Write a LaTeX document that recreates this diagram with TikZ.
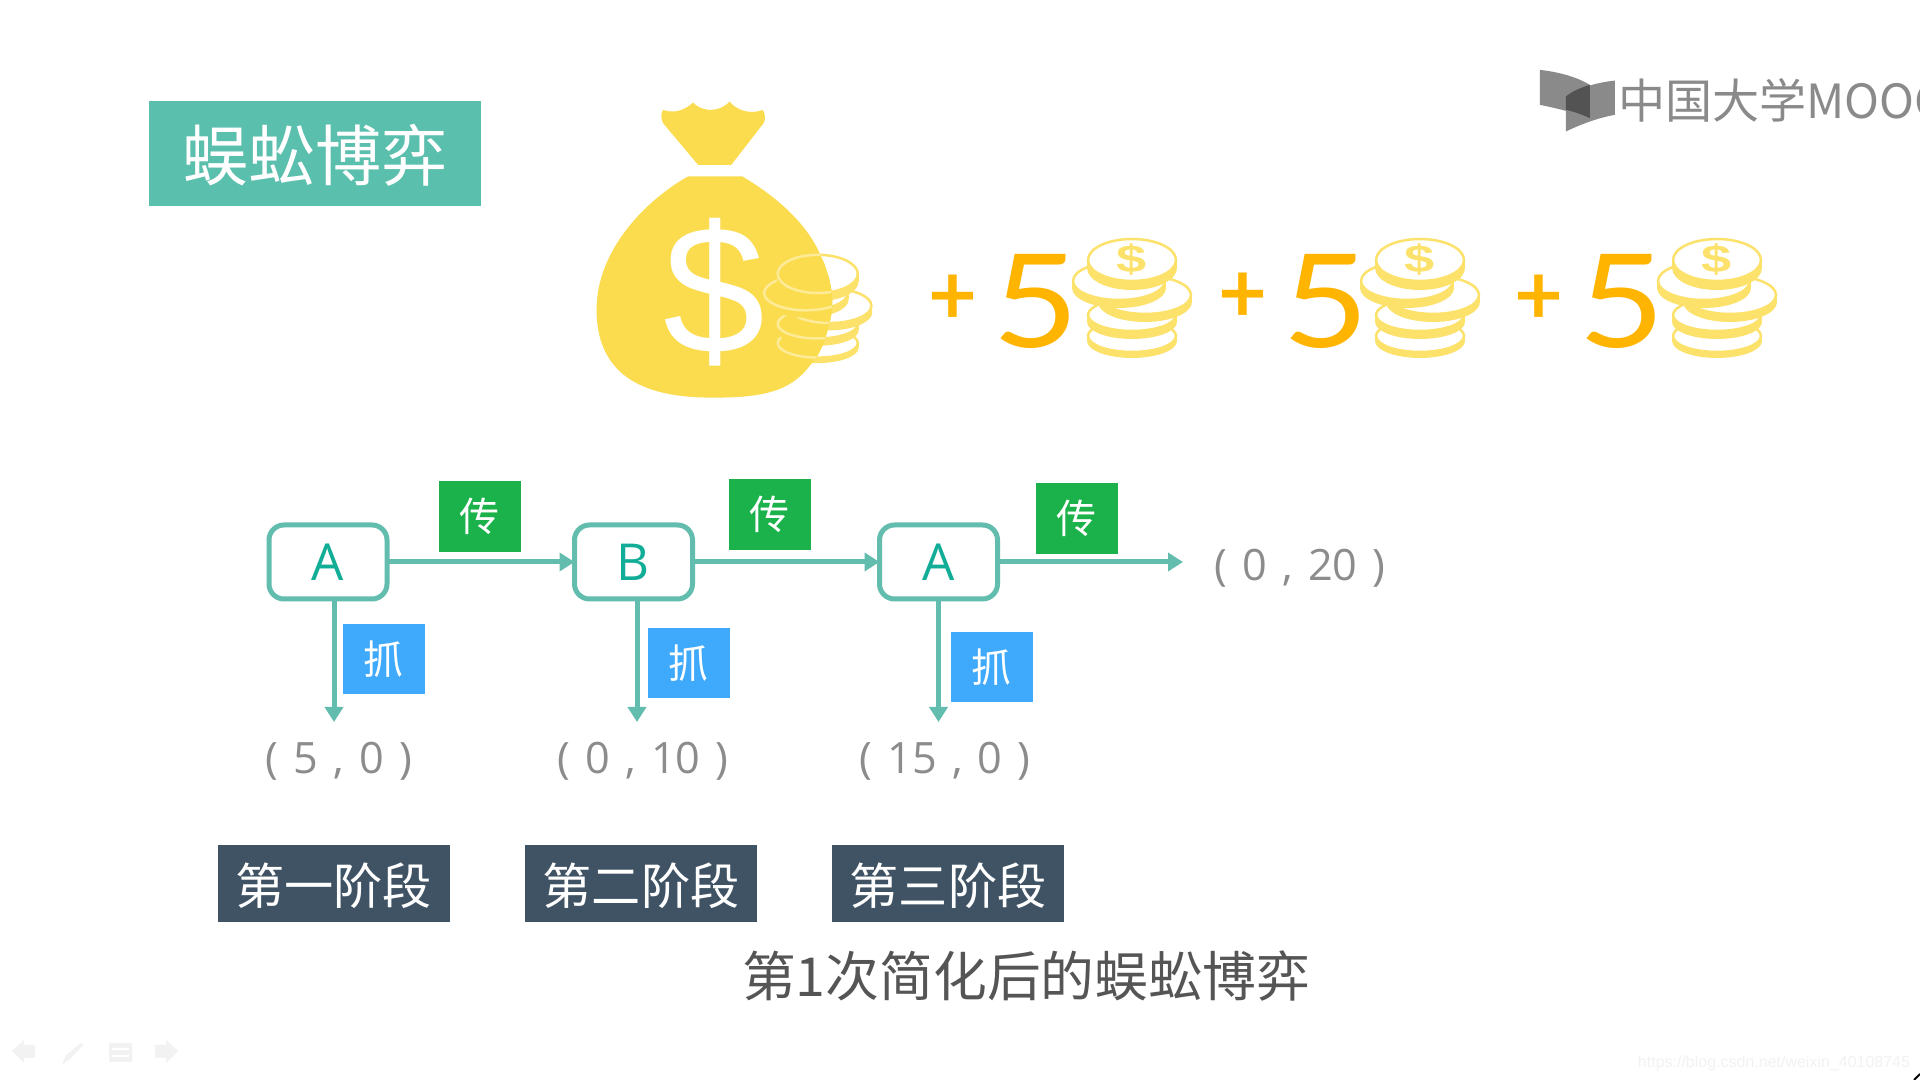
\documentclass[tikz,border=0pt]{standalone}
\usepackage{fontspec}
\setmainfont{Open Sans}
\newfontfamily\cjk{Noto Sans CJK SC}
\newfontfamily\hand{Lato}
\newfontfamily\webfont{Liberation Sans}
\newfontfamily\boldfont{Liberation Sans Bold}
\newfontfamily\pairfont[WordSpace=1.35]{Open Sans}
\usetikzlibrary{arrows.meta}
\definecolor{titleteal}{HTML}{5BBFAD}
\definecolor{lineteal}{HTML}{62BDAE}
\definecolor{letterteal}{HTML}{11AD96}
\definecolor{passgreen}{HTML}{1BB24B}
\definecolor{catchblue}{HTML}{3FA9FB}
\definecolor{stageslate}{HTML}{3F5364}
\definecolor{bagyellow}{HTML}{FBDC4F}
\definecolor{coinyellow}{HTML}{FCE26A}
\definecolor{plusorange}{HTML}{FFB400}
\definecolor{logogrey}{HTML}{8A8A8A}
\definecolor{pairgrey}{HTML}{8C8C8C}
\definecolor{captiongrey}{HTML}{555555}
\definecolor{faintgrey}{HTML}{F2F2F2}
\colorlet{coinbody}{coinyellow}
\colorlet{coinface}{white}
\colorlet{coinline}{coinyellow}
\newcommand{\bagbody}{(385,290) -- (548,290) .. controls (650,350) and (740,430) .. (780,520) .. controls (810,580) and (830,660) .. (810,730) .. controls (795,790) and (780,830) .. (750,860) .. controls (690,940) and (600,955) .. (460,955) .. controls (300,955) and (110,920) .. (110,690) .. controls (110,510) and (260,360) .. (385,290) -- cycle}
\begin{document}
\begin{tikzpicture}
    \tikzset{
        every node/.style={inner sep=0, outer sep=0},
        titlebox/.style={fill=titleteal, text=white, minimum width=3.32cm, minimum height=1.05cm, text height=0.63cm, text depth=0.08cm, font=\cjk\fontsize{18.8pt}{20pt}\selectfont},
        player/.style={draw=lineteal, line width=0.05cm, rounded corners=0.15cm, fill=white, text=letterteal, minimum width=1.18cm, minimum height=0.74cm, font=\fontsize{14.5pt}{16pt}\selectfont},
        pass/.style={fill=passgreen, text=white, minimum width=0.82cm, minimum height=0.71cm, font=\cjk\fontsize{11.4pt}{13pt}\selectfont},
        catch/.style={fill=catchblue, text=white, minimum width=0.82cm, minimum height=0.70cm, font=\cjk\fontsize{11.4pt}{13pt}\selectfont},
        pair/.style={text=pairgrey, font=\pairfont\fontsize{12.3pt}{14pt}\selectfont},
        stage/.style={fill=stageslate, text=white, minimum width=2.32cm, minimum height=0.77cm, text height=0.48cm, text depth=0.06cm, font=\cjk\fontsize{14pt}{15pt}\selectfont},
        arc/.style={draw=lineteal, line width=0.05cm, -{Triangle[length=0.15cm,width=0.18cm]}},
        plus/.style={text=plusorange, font=\hand\bfseries\fontsize{24pt}{25pt}\selectfont},
        five/.style={text=plusorange, xscale=1.15, transform shape, font=\hand\fontsize{37pt}{39pt}\selectfont},
        coinmark/.style={text=coinyellow, xscale=1.4, transform shape, font=\boldfont\fontsize{11pt}{12pt}\selectfont},
        zoombag/.style={shift={(5.6,10.0)}, x=0.003333cm, y=-0.003333cm},
        zoomlogo/.style={shift={(15.2,10.3)}, x=0.003333cm, y=-0.003333cm},
        coinpile/.pic={
            \begin{scope}[x=0.01cm, y=0.01cm]
                \foreach \cx/\cy/\rx/\ry/\th in {0/-38/45/17/5, 0/-17/45/17/7, 13/3/47/20/7, -13/17/47/20/7, 0/38/45/22/8}{
                    \fill[coinbody] (\cx-\rx,\cy) rectangle (\cx+\rx,\cy-\th);
                    \fill[coinbody] (\cx,\cy-\th) ellipse [x radius=\rx, y radius=\ry];
                    \draw[coinline, fill=coinface, line width=0.025cm] (\cx,\cy) ellipse [x radius=\rx-1, y radius=\ry-1];
                }
            \end{scope}
        }
    }

    \path[fill=white, use as bounding box] (0,0) rectangle (19.2,10.8);

    \begin{scope}[zoomlogo]
        \fill[logogrey] (60,60) .. controls (110,65) and (170,80) .. (210,105) -- (210,205) .. controls (170,190) and (110,175) .. (60,165) -- cycle;
        \fill[logogrey] (285,92) -- (285,195) .. controls (230,205) and (180,225) .. (138,245) -- (138,140) .. controls (170,115) and (230,98) .. (285,92) -- cycle;
        \fill[logogrey!60!black] (138,140) .. controls (155,125) and (185,112) .. (210,105) -- (210,205) .. controls (185,193) and (160,185) .. (138,180) -- cycle;
    \end{scope}
    \begin{scope}
        \clip (0,0) rectangle (19.2,10.8);
        \node[anchor=west, text=logogrey, font=\cjk\fontsize{13.4pt}{15pt}\selectfont] (logo) at (16.18,9.8) {中国大学MOOC};
    \end{scope}

    \node[titlebox] (title) at (3.15,9.265) {蜈蚣博弈};

    \begin{scope}[zoombag]
        \fill[bagyellow] (310,90) .. controls (340,100) and (370,95) .. (400,68) .. controls (420,90) and (470,105) .. (510,65) .. controls (530,90) and (570,105) .. (610,90) .. controls (618,105) and (618,120) .. (612,130) -- (515,255) -- (415,255) -- (310,130) .. controls (303,115) and (303,100) .. (310,90) -- cycle;
        \fill[bagyellow] \bagbody;
        \pic[scale=0.91] (coinsbag) at (775,687) {coinpile};
    \end{scope}
    \begin{scope}
        \begin{scope}[zoombag]
            \clip \bagbody;
            \colorlet{coinbody}{bagyellow}
            \colorlet{coinface}{bagyellow}
            \colorlet{coinline}{coinyellow!70!white}
            \pic[scale=0.91] (ghostbag) at (775,687) {coinpile};
        \end{scope}
    \end{scope}
    \node[text=white, font=\webfont\fontsize{52pt}{54pt}\selectfont] (dollar) at (7.14,7.88) {\$};

    \node[plus] (plusa) at (9.53,7.80) {+};
    \node[five] (fivea) at (10.36,7.79) {5};
    \pic (coinsa) at (11.32,7.82) {coinpile};
    \node[coinmark] (marka) at (11.32,8.20) {\$};
    \node[plus] (plusb) at (12.43,7.82) {+};
    \node[five] (fiveb) at (13.26,7.79) {5};
    \pic (coinsb) at (14.20,7.82) {coinpile};
    \node[coinmark] (markb) at (14.20,8.20) {\$};
    \node[plus] (plusc) at (15.39,7.80) {+};
    \node[five] (fivec) at (16.22,7.79) {5};
    \pic (coinsc) at (17.17,7.82) {coinpile};
    \node[coinmark] (markc) at (17.17,8.20) {\$};

    \node[player] (a) at (3.28,5.18) {A};
    \node[player] (b) at (6.335,5.18) {B};
    \node[player] (c) at (9.385,5.18) {A};

    \node[pass] (passa) at (4.80,5.635) {传};
    \node[pass] (passb) at (7.70,5.655) {传};
    \node[pass] (passc) at (10.765,5.615) {传};
    \node[catch] (catcha) at (3.84,4.21) {抓};
    \node[catch] (catchb) at (6.885,4.17) {抓};
    \node[catch] (catchc) at (9.915,4.13) {抓};

    \node[pair] (paya) at (3.39,3.19) {( 5 , 0 )};
    \node[pair] (payb) at (6.43,3.19) {( 0 , 10 )};
    \node[pair] (payc) at (9.45,3.19) {( 15 , 0 )};
    \node[pair] (payd) at (13.00,5.12) {( 0 , 20 )};

    \coordinate (enda) at (3.34,3.58);
    \coordinate (endb) at (6.37,3.58);
    \coordinate (endc) at (9.385,3.58);
    \coordinate (endd) at (11.83,5.18);

    \foreach \x/\y in {%
        a.east/b.west, b.east/c.west, c.east/endd, a.south -| enda/enda, b.south -| endb/endb, c.south/endc%
    }{
    \draw[arc] (\x) -- (\y);
    }

    \node[stage] (stagea) at (3.335,1.965) {第一阶段};
    \node[stage] (stageb) at (6.41,1.965) {第二阶段};
    \node[stage] (stagec) at (9.48,1.965) {第三阶段};
    \node[text=captiongrey, font=\cjk\fontsize{15.3pt}{17pt}\selectfont] (caption) at (10.26,1.04) {第1次简化后的蜈蚣博弈};

    \fill[faintgrey] (0.12,0.29) -- (0.24,0.40) -- (0.24,0.35) -- (0.35,0.35) -- (0.35,0.22) -- (0.24,0.22) -- (0.24,0.17) -- cycle;
    \fill[faintgrey] (0.62,0.15) -- (0.66,0.25) -- (0.81,0.37) -- (0.83,0.35) -- (0.70,0.21) -- cycle;
    \fill[faintgrey, rounded corners=0.01cm] (1.09,0.18) rectangle (1.32,0.37);
    \draw[white, line width=0.015cm] (1.12,0.24) -- (1.29,0.24) (1.12,0.31) -- (1.29,0.31);
    \fill[faintgrey] (1.78,0.29) -- (1.66,0.40) -- (1.66,0.35) -- (1.55,0.35) -- (1.55,0.22) -- (1.66,0.22) -- (1.66,0.17) -- cycle;

    \node[text=faintgrey, anchor=east, font=\webfont\fontsize{4.55pt}{6pt}\selectfont] (watermark) at (19.10,0.165) {https://blog.csdn.net/weixin\_40108745};
    \draw[black, line width=0.02cm] (19.14,0) -- (19.2,0.06);
\end{tikzpicture}
\end{document}
